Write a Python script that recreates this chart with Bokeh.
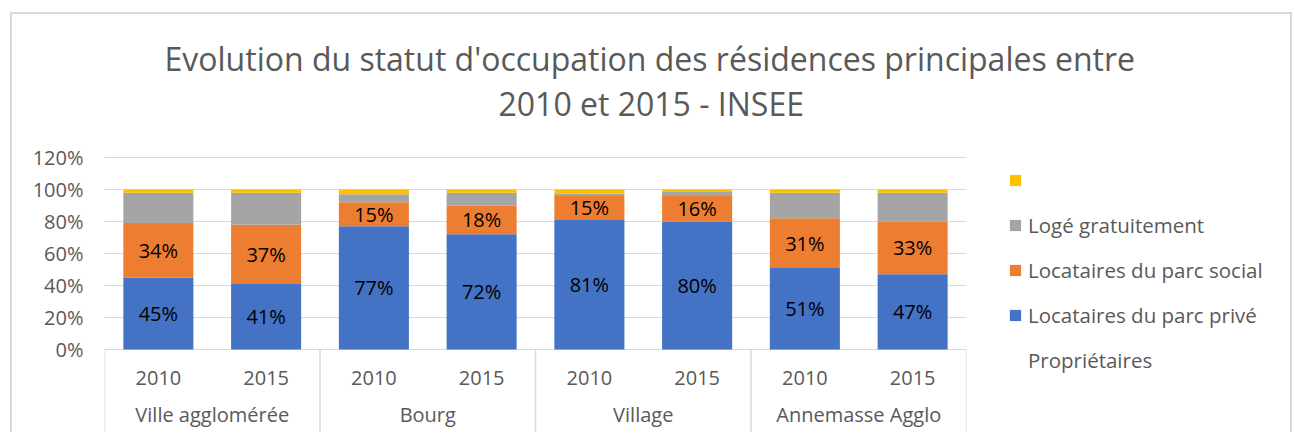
from bokeh.plotting import figure
from bokeh.models import (FactorRange, ColumnDataSource, FixedTicker, PrintfTickFormatter,
                          Legend, LegendItem, Title)
from bokeh.core.properties import value
from bokeh.embed import file_html
from bokeh.resources import INLINE

# ---------------- data ----------------
groups = ["Ville agglomérée", "Bourg", "Village", "Annemasse Agglo"]
years = ["2010", "2015"]
prive = [45, 41, 77, 72, 81, 80, 51, 47]          # blue
social = [34, 37, 15, 18, 15, 16, 31, 33]         # orange
gratuit = [19, 20, 5, 8, 1.5, 2.5, 16, 18]        # grey
autre = [2, 2, 3, 2, 2.5, 1.5, 2, 2]              # yellow
legend_labels = [" ", "Logé gratuitement", "Locataires du parc social",
                 "Locataires du parc privé", "Propriétaires"]
y_ticks = [0, 20, 40, 60, 80, 100, 120]
title_lines = ["Evolution du statut d'occupation des résidences principales entre",
               "2010 et 2015 - INSEE"]

# ---------------- style ----------------
colors = ["#4472C4", "#ED7D31", "#A5A5A5", "#FFC000"]
FONT = "Open Sans"
TXT = "#595959"
GRID = "#D9D9D9"

factors = [(g, y) for g in groups for y in years]
source = ColumnDataSource(dict(x=factors, prive=prive, social=social,
                               gratuit=gratuit, autre=autre))

Y0, Y1 = -51.875, 140.625
p = figure(frame_width=862, frame_height=308,
           x_range=FactorRange(factors=factors, factor_padding=0, group_padding=0,
                               subgroup_padding=0, range_padding=0),
           y_range=(Y0, Y1), x_axis_location=None, title_location=None,
           output_backend="svg", toolbar_location=None,
           min_border_left=104, min_border_right=313, min_border_top=124,
           min_border_bottom=0)
p.outline_line_color = None
p.xgrid.visible = False
p.border_fill_color = None
p.background_fill_color = None
p.styles = {
    "background": (
        f"linear-gradient({GRID},{GRID}) 10px 12px / 2px 100% no-repeat,"
        f"linear-gradient({GRID},{GRID}) 10px 12px / 1282px 2px no-repeat,"
        f"linear-gradient({GRID},{GRID}) 1290px 12px / 2px 100% no-repeat,"
        "#ffffff"
    )
}

ticker = FixedTicker(ticks=y_ticks)
p.yaxis.ticker = ticker
p.yaxis.formatter = PrintfTickFormatter(format="%d%%")
p.yaxis.axis_line_color = None
p.yaxis.major_tick_line_color = None
p.yaxis.minor_tick_line_color = None
p.yaxis.major_label_standoff = 15
p.yaxis.major_label_text_font = FONT
p.yaxis.major_label_text_font_size = "20px"
p.yaxis.major_label_text_color = TXT
p.ygrid.ticker = ticker
p.ygrid.grid_line_color = GRID
p.ygrid.grid_line_width = 1

# bars
rs = p.vbar_stack(["prive", "social", "gratuit", "autre"], x="x", width=0.65,
                  color=colors, line_width=0, source=source)
r_prive, r_social, r_gratuit, r_autre = rs

# data labels (blue + orange)
lab_x = factors + factors
lab_y = [v / 2 for v in prive] + [a + b / 2 for a, b in zip(prive, social)]
lab_t = [f"{v}%" for v in prive] + [f"{v}%" for v in social]
p.text(x="x", y="y", text="t",
       source=ColumnDataSource(dict(x=lab_x, y=lab_y, t=lab_t)),
       text_align="center", text_baseline="middle", text_font=value(FONT),
       text_font_size="20px", text_color="#000000")

# category axis (drawn inside the frame's lower part)
p.text(x="x", y="y", text="t",
       source=ColumnDataSource(dict(x=factors, y=[-18.1] * len(factors),
                                    t=[f[1] for f in factors])),
       text_align="center", text_baseline="middle", text_font=value(FONT),
       text_font_size="20px", text_color=TXT)
p.text(x="x", y="y", text="t",
       source=ColumnDataSource(dict(x=groups, y=[-40.6] * len(groups), t=groups)),
       text_align="center", text_baseline="middle", text_font=value(FONT),
       text_font_size="20px", text_color=TXT)

seps = [i * len(years) for i in range(len(groups) + 1)]
p.segment(x0=seps, y0=[0] * len(seps), x1=seps, y1=[Y0] * len(seps),
          line_color=GRID, line_width=1.5)

# legend
dummy = p.scatter(x=[], y=[], marker="square", fill_alpha=0, line_alpha=0)
items = [LegendItem(label=lbl, renderers=[r])
         for lbl, r in zip(legend_labels, [r_autre, r_gratuit, r_social, r_prive, dummy])]
legend = Legend(items=items, location=(42, 58), orientation="vertical",
                glyph_width=14, glyph_height=14, label_standoff=6, spacing=17,
                label_height=28, padding=0, margin=0, border_line_color=None,
                background_fill_alpha=0, label_text_font=FONT,
                label_text_font_size="20.5px", label_text_color=TXT)
p.add_layout(legend, "right")

# title (two lines, nearest to the plot added first)
t2 = Title(text=title_lines[1], align="left", offset=394, standoff=0,
           text_font=FONT, text_font_size="32px", text_font_style="normal",
           text_color=TXT)
t1 = Title(text=title_lines[0], align="left", offset=60, standoff=0,
           text_font=FONT, text_font_size="32px", text_font_style="normal",
           text_color=TXT)
p.add_layout(t2, "above")
p.add_layout(t1, "above")

open("out.html", "w").write(file_html(p, INLINE))
